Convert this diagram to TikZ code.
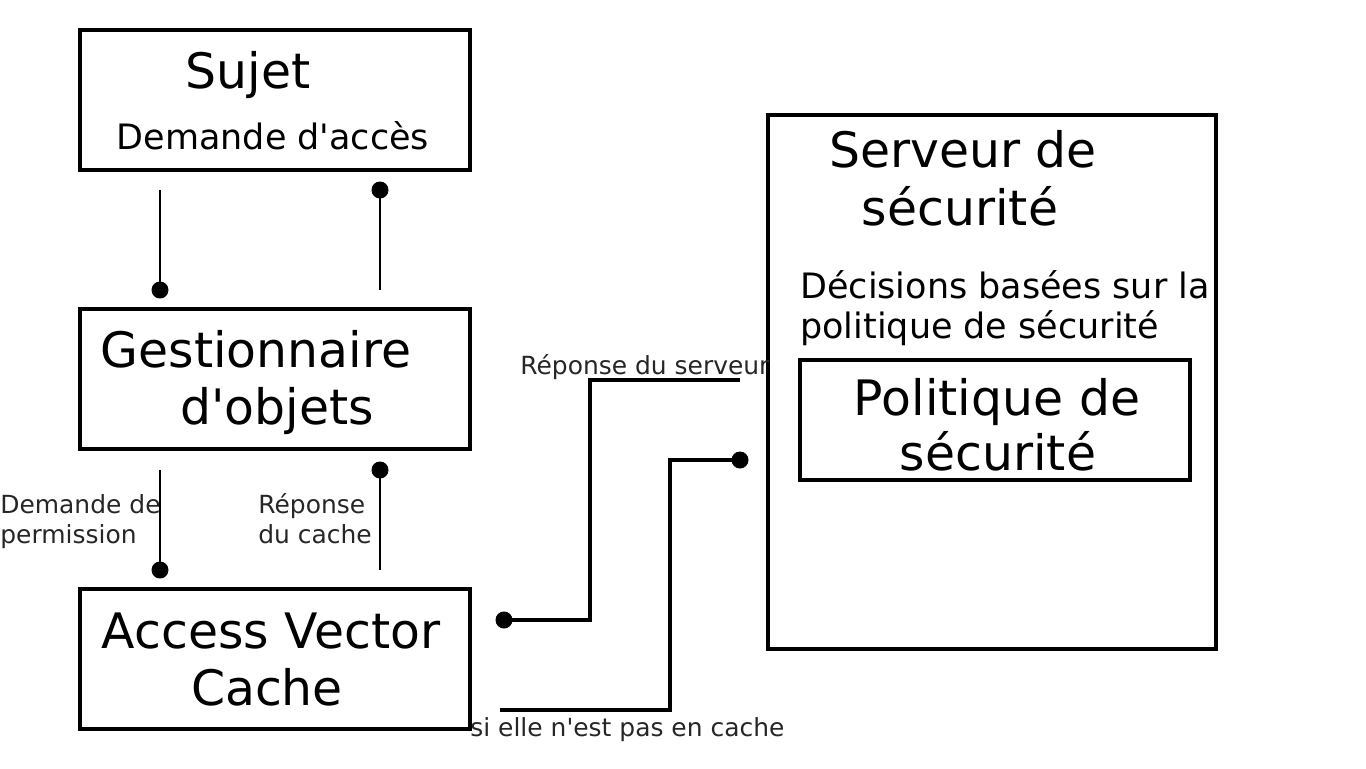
\documentclass[tikz,border=0pt]{standalone}
\usepackage{fontspec}
\setmainfont{DejaVu Sans}
\newcommand{\grand}{\fontsize{27.8}{32}\selectfont}
\newcommand{\moyen}{\fontsize{19.9}{23}\selectfont}
\newcommand{\petit}{\fontsize{14.2}{17}\selectfont}
\newcommand{\apos}{\textquotesingle}
\tikzset{
  boite/.style={draw, line width=2pt, inner sep=0pt},
  lien/.style={line width=1.4pt},
  fil/.style={line width=2pt},
  texte/.style={inner sep=0pt, anchor=base},
  gauche/.style={inner sep=0pt, anchor=base west},
  point/.style={circle, fill, inner sep=0pt, minimum size=0.34cm},
}
\begin{document}
\begin{tikzpicture}[x=0.02cm, y=-0.02cm]
    \useasboundingbox (0,0) rectangle (1366,768);

    % Boites de gauche
    \node[boite, minimum width=7.8cm, minimum height=2.8cm] (sujet) at (275,100) {};
    \node[boite, minimum width=7.8cm, minimum height=2.8cm] (gestion) at (275,379) {};
    \node[boite, minimum width=7.8cm, minimum height=2.8cm] (avc) at (275,659) {};

    % Serveur et politique
    \node[boite, minimum width=8.96cm, minimum height=10.68cm] (serveur) at (992,382) {};
    \node[boite, minimum width=7.8cm, minimum height=2.4cm] (politique) at (995,420) {};

    % Textes des boites
    \node[texte, font=\grand] (tsujet) at (248,88) {Sujet};
    \node[texte, font=\moyen] (tacces) at (273,149) {Demande d\apos{}accès};
    \node[texte, font=\grand] (tgest1) at (256,367) {Gestionnaire};
    \node[texte, font=\grand] (tgest2) at (277,424) {d\apos{}objets};
    \node[texte, font=\grand] (tavc1) at (271,648) {Access Vector};
    \node[texte, font=\grand] (tavc2) at (267,705) {Cache};
    \node[texte, font=\grand] (tserv1) at (963,167) {Serveur de};
    \node[texte, font=\grand] (tserv2) at (960,225) {sécurité};
    \node[gauche, font=\moyen] (tdec1) at (800,298) {Décisions basées sur la};
    \node[gauche, font=\moyen] (tdec2) at (800,338) {politique de sécurité};
    \node[texte, font=\grand] (tpol1) at (997,415) {Politique de};
    \node[texte, font=\grand] (tpol2) at (998,470) {sécurité};

    % Etiquettes des liens
    \node[gauche, font=\petit, black!85] (tperm1) at (0,513) {Demande de};
    \node[gauche, font=\petit, black!85] (tperm2) at (0,543) {permission};
    \node[gauche, font=\petit, black!85] (trep1) at (258,513) {Réponse};
    \node[gauche, font=\petit, black!85] (trep2) at (258,543) {du cache};
    \node[gauche, font=\petit, black!85] (trepserv) at (520,374) {Réponse du serveur};
    \node[gauche, font=\petit, black!85] (tcache) at (470,736) {si elle n\apos{}est pas en cache};

    % Points et extremites
    \node[point] (p1) at (160,290) {};
    \node[point] (p2) at (380,190) {};
    \node[point] (p3) at (160,570) {};
    \node[point] (p4) at (380,470) {};
    \node[point] (p5) at (504,620) {};
    \node[point] (p6) at (740,460) {};
    \coordinate (a1) at (160,190);
    \coordinate (a2) at (380,290);
    \coordinate (a3) at (160,470);
    \coordinate (a4) at (380,570);
    \coordinate (coude1) at (590,380);
    \coordinate (fin1) at (740,380);
    \coordinate (debut2) at (500,710);
    \coordinate (coude2) at (670,460);

    % Liens verticaux
    \draw[lien] (a1) -- (p1.center);
    \draw[lien] (p2.center) -- (a2);
    \draw[lien] (a3) -- (p3.center);
    \draw[lien] (p4.center) -- (a4);

    % Liens vers le serveur
    \draw[fil] (p5.center) -| (coude1) -- (fin1);
    \draw[fil] (debut2) -| (coude2) -- (p6.center);
\end{tikzpicture}
\end{document}
